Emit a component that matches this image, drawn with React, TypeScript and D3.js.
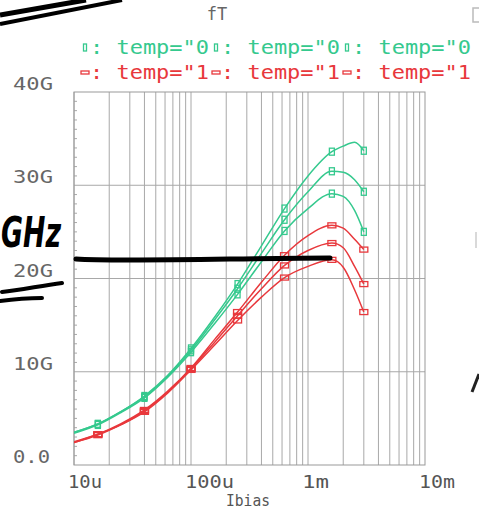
import React from 'react';
import * as d3 from 'd3';

const ibias = [10e-6, 16e-6, 25e-6, 40e-6, 63e-6, 100e-6, 160e-6, 250e-6, 400e-6, 630e-6, 1e-3, 1.6e-3, 2e-3, 2.5e-3, 3e-3];
const markerIdx = [1, 3, 5, 7, 9, 11, 14];

const green1 = [3.5, 4.4, 5.7, 7.4, 9.6, 12.5, 15.9, 19.4, 23.5, 27.5, 31.0, 33.6, 34.2, 34.6, 33.7];
const green2 = [3.5, 4.4, 5.7, 7.3, 9.5, 12.3, 15.6, 18.9, 22.7, 26.3, 29.3, 31.5, 31.4, 30.6, 29.3];
const green3 = [3.4, 4.3, 5.6, 7.2, 9.4, 12.1, 15.2, 18.3, 21.8, 25.1, 27.5, 29.1, 28.8, 27.3, 25.0];
const red1 = [2.5, 3.3, 4.4, 5.9, 7.9, 10.4, 13.5, 16.4, 19.6, 22.5, 24.6, 25.7, 25.4, 24.2, 23.1];
const red2 = [2.4, 3.3, 4.3, 5.8, 7.8, 10.3, 13.2, 16.0, 18.9, 21.4, 23.0, 23.8, 23.3, 21.3, 19.4];
const red3 = [2.4, 3.2, 4.3, 5.7, 7.7, 10.2, 12.9, 15.5, 18.0, 20.1, 21.3, 22.0, 21.2, 18.8, 16.4];

const greenLabels = ['temp="0', 'temp="0', 'temp="0'];
const redLabels = ['temp="1', 'temp="1', 'temp="1'];

const yTicks = [0, 10, 20, 30, 40];
const yTickLabels = ['0.0', '10G', '20G', '30G', '40G'];
const xTicks = [1e-5, 1e-4, 1e-3, 1e-2];
const xTickLabels = ['10u', '100u', '1m', '10m'];

const title = 'fT';
const xTitle = 'Ibias';

const GREEN = '#35c98e';
const RED = '#e8383c';
const GRID = '#a8a8a8';
const FONT = '"DejaVu Sans Mono", monospace';

const W = 479, H = 513;
const L = 74, R = 425, T = 92, B = 465;

export default function App() {
  const x = d3.scaleLog().domain([1e-5, 1e-2]).range([L, R]);
  const y = d3.scaleLinear().domain([0, 40]).range([B, T]);
  const line = d3.line<number>().x((_, i) => x(ibias[i])).y((v) => y(v)).curve(d3.curveMonotoneX);

  const minorX: number[] = [];
  [1e-5, 1e-4, 1e-3].forEach((d) => {
    for (let k = 1; k <= 9; k++) minorX.push(d * k);
  });
  const minorY = d3.range(1, 40).filter((v) => v % 10 !== 0);

  const greens = [green1, green2, green3];
  const reds = [red1, red2, red3];

  const legendX = [85, 216, 347];
  const legendStep = 131;

  return (
    <svg width={W} height={H} style={{ position: 'absolute', left: 0, top: 0, background: '#fff' }}>
      <defs>
        <clipPath id="plotclip">
          <rect x={L} y={T - 10} width={R - L} height={B - T + 10} />
        </clipPath>
        {legendX.map((lx, i) => (
          <clipPath id={`lc${i}`} key={i}>
            <rect x={lx} y={30} width={legendStep - 4} height={60} />
          </clipPath>
        ))}
      </defs>
      <rect x={0} y={0} width={W} height={H} fill="#fff" />
      {/* grid */}
      {minorX.map((v, i) => (
        <line key={'gx' + i} x1={x(v)} x2={x(v)} y1={T} y2={B} stroke={GRID} strokeWidth={1} />
      ))}
      {[10, 20, 30].map((v) => (
        <line key={'gy' + v} x1={L} x2={R} y1={y(v)} y2={y(v)} stroke={GRID} strokeWidth={1} />
      ))}
      {minorY.map((v) => (
        <line key={'my' + v} x1={L} x2={L + 3} y1={y(v)} y2={y(v)} stroke={GRID} strokeWidth={1} />
      ))}
      <rect x={L} y={T} width={R - L} height={B - T} fill="none" stroke="#999" strokeWidth={1} />

      {/* curves */}
      <g clipPath="url(#plotclip)">
        {greens.map((s, si) => (
          <g key={'g' + si}>
            <path d={line(s) || ''} fill="none" stroke={GREEN} strokeWidth={1.5} />
            {markerIdx.map((mi) => (
              <rect key={mi} x={x(ibias[mi]) - 2.5} y={y(s[mi]) - 3.5} width={5} height={7} fill="none" stroke={GREEN} strokeWidth={1.3} />
            ))}
          </g>
        ))}
        {reds.map((s, si) => (
          <g key={'r' + si}>
            <path d={line(s) || ''} fill="none" stroke={RED} strokeWidth={1.5} />
            {markerIdx.map((mi) => (
              <rect key={mi} x={x(ibias[mi]) - 4} y={y(s[mi]) - 2.5} width={8} height={5} fill="none" stroke={RED} strokeWidth={1.3} />
            ))}
          </g>
        ))}
      </g>

      {/* axis labels */}
      {yTicks.map((v, i) => (
        <text key={'yl' + v} x={13} y={y(v) - 7} textAnchor="start" dominantBaseline="middle" fontFamily={FONT} fontSize={17} fill="#666" textLength={v === 0 ? 37 : 40} lengthAdjust="spacingAndGlyphs">
          {yTickLabels[i]}
        </text>
      ))}
      {xTicks.map((v, i) => (
        <text key={'xl' + v} x={x(v) - 6} y={483} textAnchor="start" dominantBaseline="middle" fontFamily={FONT} fontSize={17} fill="#555" textLength={[34, 49, 27, 36][i]} lengthAdjust="spacingAndGlyphs">
          {xTickLabels[i]}
        </text>
      ))}
      <text x={226} y={501} textAnchor="start" dominantBaseline="middle" fontFamily={FONT} fontSize={16} fill="#555" textLength={44} lengthAdjust="spacingAndGlyphs">
        {xTitle}
      </text>
      <text x={217} y={15} textAnchor="middle" dominantBaseline="middle" fontFamily={FONT} fontSize={17} fill="#666">
        {title}
      </text>

      {/* legend */}
      {greenLabels.map((lab, i) => (
        <g key={'lg' + i}>
          <rect x={legendX[i] - 1.5} y={44} width={3} height={7} fill="none" stroke={GREEN} strokeWidth={1.3} />
          <text x={legendX[i] + 5} y={48} dominantBaseline="middle" fontFamily={FONT} fontSize={19} fill={GREEN} clipPath={`url(#lc${i})`} textLength={legendStep - 12} lengthAdjust="spacingAndGlyphs">
            {': ' + lab}
          </text>
        </g>
      ))}
      {redLabels.map((lab, i) => (
        <g key={'lr' + i}>
          <rect x={legendX[i] - 4} y={71} width={8} height={3} fill="none" stroke={RED} strokeWidth={1.3} />
          <text x={legendX[i] + 5} y={73} dominantBaseline="middle" fontFamily={FONT} fontSize={19} fill={RED} clipPath={`url(#lc${i})`} textLength={legendStep - 12} lengthAdjust="spacingAndGlyphs">
            {': ' + lab}
          </text>
        </g>
      ))}
      <path d="M479,8 L473,8 L473,22 L479,22" fill="none" stroke="#bbb" strokeWidth={1.5} />
      <path d="M476,232 L476,248" fill="none" stroke="#ccc" strokeWidth={1.5} />
      <path d="M479,374 L472,392" fill="none" stroke="#222" strokeWidth={3} />

      {/* hand-drawn annotations */}
      <path d="M0,15 L86,0" stroke="#000" strokeWidth={5} fill="none" />
      <path d="M0,24 L122,0" stroke="#000" strokeWidth={4} fill="none" />
      <path d="M76,259 C120,262 250,258 330,258" stroke="#000" strokeWidth={5} fill="none" strokeLinecap="round" />
      <text x={1} y={247} fontFamily="DejaVu Sans" fontWeight="bold" fontSize={42} fill="#000" fontStyle="italic" textLength={60} lengthAdjust="spacingAndGlyphs">GHz</text>
      <path d="M2,292 C20,290 40,286 62,283" stroke="#000" strokeWidth={4} fill="none" strokeLinecap="round" />
      <path d="M0,301 C15,299 30,298 42,298" stroke="#000" strokeWidth={4} fill="none" strokeLinecap="round" />
    </svg>
  );
}
